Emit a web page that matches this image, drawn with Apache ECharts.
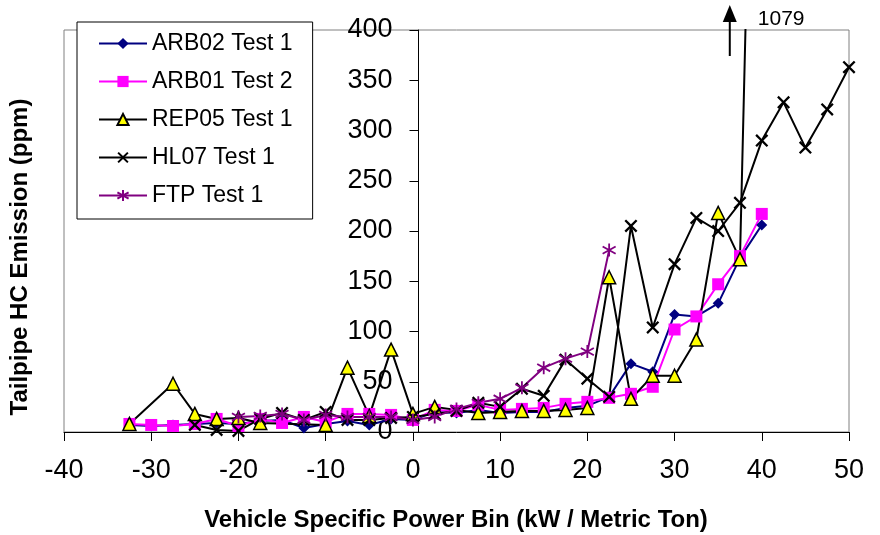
<!DOCTYPE html>
<html><head><meta charset="utf-8">
<script src="https://cdn.jsdelivr.net/npm/echarts@6/dist/echarts.min.js"></script>
<style>html,body{margin:0;padding:0;background:#fff}#c{width:880px;height:535px}</style>
</head><body><div id="c"></div>
<script>
// VSP bins (kW / metric ton)
const bins = [-32.5,-30,-27.5,-25,-22.5,-20,-17.5,-15,-12.5,-10,-7.5,-5,-2.5,0,2.5,5,7.5,10,12.5,15,17.5,20,22.5,25,27.5,30,32.5,35,37.5,40,42.5,45,47.5,50];
// Tailpipe HC emission (ppm) per bin, null = no data
const arb02 = [7,6,7,8,9,8,11,12,4,8,11,7,13,12,20,19,22,19,20,20,24,26,35,68,60,117,115,128,173,206,null,null,null,null];
const arb01 = [8,7,6,8,13,6,13,9,15,10,18,18,17,12,22,21,27,22,23,24,28,30,34,38,45,102,115,147,175,217,null,null,null,null];
const rep05 = [8,null,48,18,13,14,9,null,null,7,64,16,82,18,25,null,19,20,21,21,22,24,154,33,56,56,92,218,172,1079,null,null,null,null];
const hl07  = [null,null,null,7,2,1,13,19,12,20,12,12,14,15,18,21,29,25,43,36,72,53,35,205,104,167,213,200,228,290,328,283,321,363];
const ftp   = [null,null,null,null,null,15,16,18,12,17,15,15,15,12,15,23,29,33,44,64,73,80,181,null,null,null,null,null,null,null,null,null,null,null];
const seriesNames = ['ARB02 Test 1','ARB01 Test 2','REP05 Test 1','HL07 Test 1','FTP Test 1'];
const xTicks = {min:-40, max:50, step:10};
const yTicks = {min:0, max:400, step:50};
const offChartLabel = '1079';

function pairs(vals){ const out=[]; vals.forEach((v,i)=>{ if(v!==null) out.push([bins[i], v]); }); return out; }

const FONT = "'Liberation Sans', Arial, sans-serif";
const X_PATH = 'path://M0,1.5L1.5,0L6,4.5L10.5,0L12,1.5L7.5,6L12,10.5L10.5,12L6,7.5L1.5,12L0,10.5L4.5,6Z';
const STAR_PATH = 'path://M6,0L6,12M1.2,2.6L10.8,9.4M10.8,2.6L1.2,9.4';
const GRID_LEFT = 64;

const chart = echarts.init(document.getElementById('c'), null, {renderer:'canvas'});
const base = {type:'line', animation:false, silent:true, showAllSymbol:true, clip:true};
chart.setOption({
  backgroundColor:'#fff',
  animation:false,
  grid:{left:GRID_LEFT, right:31, top:30, bottom:103, show:true, borderColor:'#808080', borderWidth:1, backgroundColor:'transparent'},
  xAxis:{type:'value', min:xTicks.min, max:xTicks.max, interval:xTicks.step,
    axisLine:{show:true, onZero:false, lineStyle:{color:'#000', width:1}},
    axisTick:{show:true, inside:false, length:9, lineStyle:{color:'#000'}},
    axisLabel:{fontFamily:FONT, fontSize:27, color:'#000', margin:25},
    splitLine:{show:false}},
  yAxis:{type:'value', min:yTicks.min, max:yTicks.max, interval:yTicks.step, position:'left', offset:0,
    axisLine:{show:true, onZero:false, lineStyle:{color:'#000', width:1}},
    axisTick:{show:true, inside:false, length:9, lineStyle:{color:'#000'}},
    axisLabel:{fontFamily:FONT, fontSize:27, color:'#000', margin:26},
    splitLine:{show:false}},
  legend:{show:true, orient:'vertical', left:77, top:22, padding:[10,20,12,21],
    backgroundColor:'#fff', borderColor:'#000', borderWidth:1, itemWidth:48, itemHeight:14, itemGap:15,
    textStyle:{fontFamily:FONT, fontSize:23, color:'#000', lineHeight:22}, data:seriesNames, z:10},
  series:[
    Object.assign({}, base, {name:seriesNames[0], data:pairs(arb02), symbol:'diamond', symbolSize:11,
      lineStyle:{color:'#000080', width:2}, itemStyle:{color:'#000080'}}),
    Object.assign({}, base, {name:seriesNames[1], data:pairs(arb01), symbol:'rect', symbolSize:12,
      lineStyle:{color:'#FF00FF', width:2}, itemStyle:{color:'#FF00FF'}}),
    Object.assign({}, base, {name:seriesNames[2], data:pairs(rep05), symbol:'triangle', symbolSize:13,
      lineStyle:{color:'#000', width:2}, itemStyle:{color:'#FFFF00', borderColor:'#000', borderWidth:1.5}}),
    Object.assign({}, base, {name:seriesNames[3], data:pairs(hl07), symbol:X_PATH, symbolSize:13,
      lineStyle:{color:'#000', width:2}, itemStyle:{color:'#000'}}),
    Object.assign({}, base, {name:seriesNames[4], data:pairs(ftp), symbol:STAR_PATH, symbolSize:13,
      lineStyle:{color:'#800080', width:2}, itemStyle:{color:'rgba(0,0,0,0)', borderColor:'#800080', borderWidth:1.8}})
  ]
});

// move the y axis (line, ticks, labels) to x = 0, as in the original
const zeroX = chart.convertToPixel({xAxisIndex:0}, 0);
chart.setOption({yAxis:{offset:-(zeroX - GRID_LEFT)}});

// annotation for off-chart REP05 value and axis titles
const idx = rep05.indexOf(1079);
const px = chart.convertToPixel({gridIndex:0}, [bins[idx], yTicks.max]);
const ax = px[0] - 32;
chart.setOption({
  graphic:[
    {type:'line', shape:{x1:ax, y1:56, x2:ax, y2:20}, style:{stroke:'#000', lineWidth:2}, z:20},
    {type:'polygon', shape:{points:[[ax-7,22],[ax+7,22],[ax,5]]}, style:{fill:'#000'}, z:20},
    {type:'text', left:px[0]-4, top:9, style:{text:offChartLabel, font:'21px '+FONT, fill:'#000'}, z:20},
    {type:'text', x:456, y:520, style:{text:'Vehicle Specific Power Bin (kW / Metric Ton)', font:'bold 24px '+FONT, fill:'#000', align:'center', verticalAlign:'middle'}},
    {type:'text', x:20, y:257, rotation:Math.PI/2, style:{text:'Tailpipe HC Emission (ppm)', font:'bold 24px '+FONT, fill:'#000', align:'center', verticalAlign:'middle'}}
  ]
});
</script></body></html>
